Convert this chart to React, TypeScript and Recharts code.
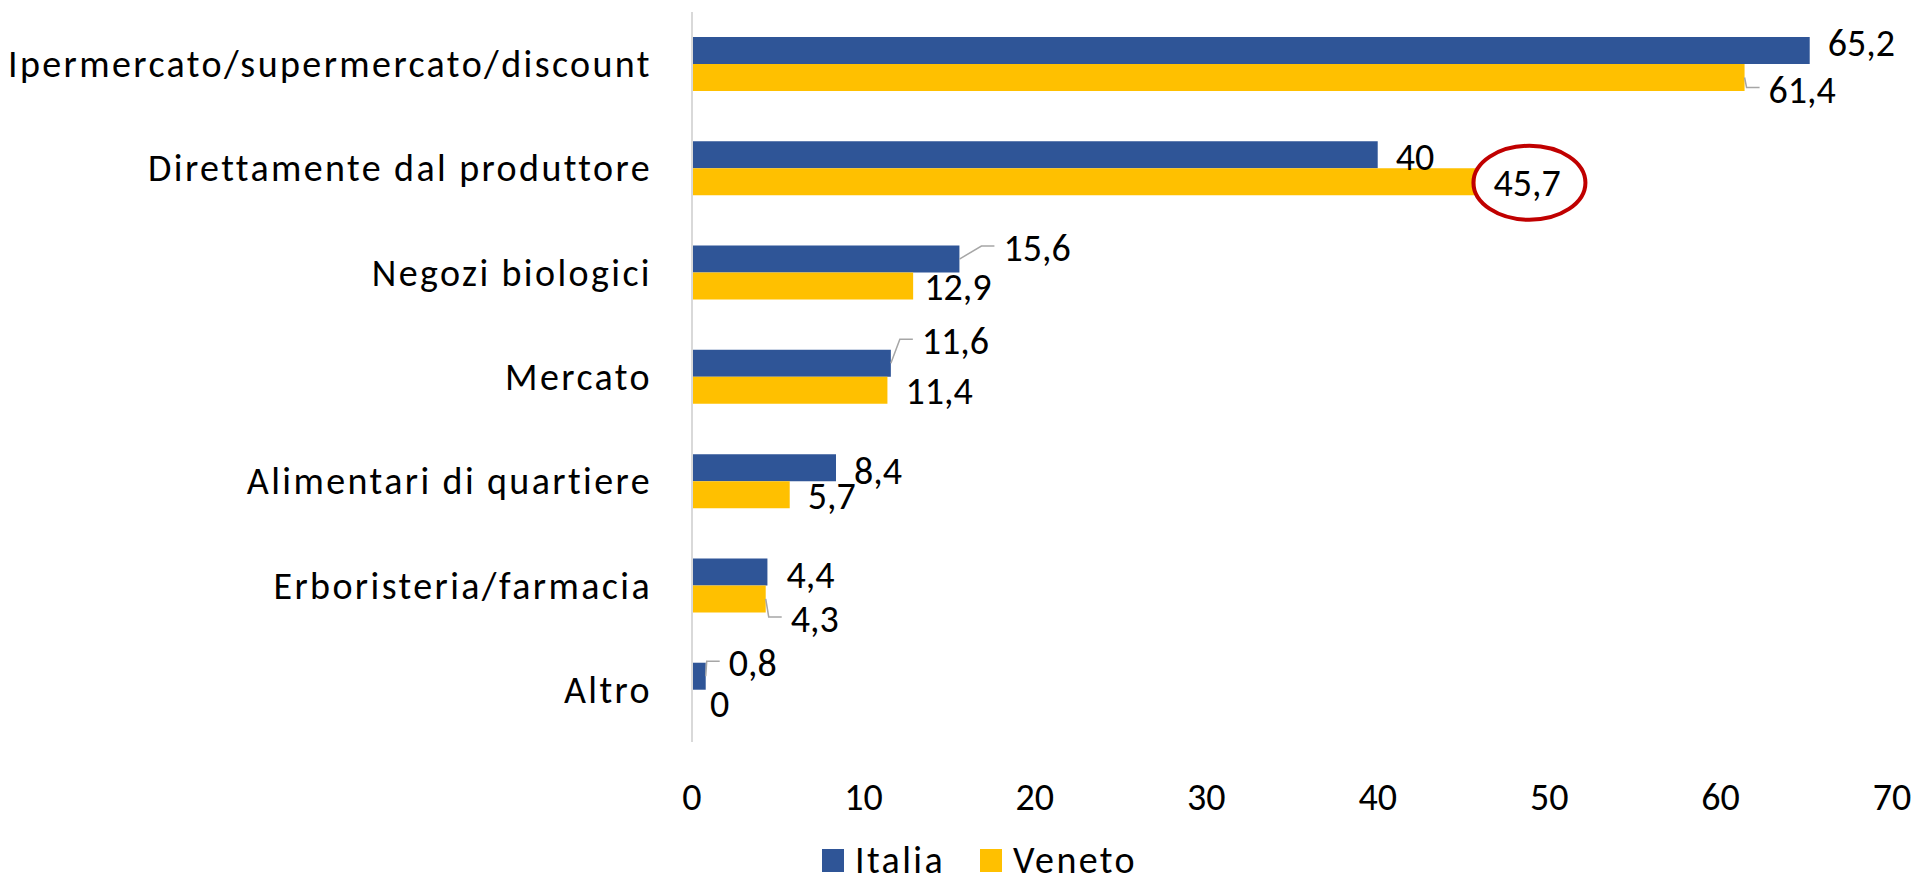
import React from 'react';
import { BarChart, Bar, XAxis, YAxis, Legend, LabelList } from 'recharts';

const categories = [
  'Ipermercato/supermercato/discount',
  'Direttamente dal produttore',
  'Negozi biologici',
  'Mercato',
  'Alimentari di quartiere',
  'Erboristeria/farmacia',
  'Altro',
];
const italia = [65.2, 40, 15.6, 11.6, 8.4, 4.4, 0.8];
const veneto = [61.4, 45.7, 12.9, 11.4, 5.7, 4.3, 0];
const xTicks = [0, 10, 20, 30, 40, 50, 60, 70];

// label nudges [dx, dy] mimicking Excel's manual label placement
const italiaNudge = [[0, -8], [0, 2], [26, -11], [13, -22], [0, 3], [1, 3], [5, -13]];
const venetoNudge = [[6, 12], [0, 1], [-7, 1], [0, 1], [0, 1], [7, 20], [0, 1]];
const italiaLeader = [2, 3, 6];
const venetoLeader = [0, 5];
const highlighted = 1; // Veneto, "Direttamente dal produttore"

const FONT = 'Carlito, Calibri, Lato, sans-serif';
const FS = 38;
const SPACING = 2.4;
const BLUE = '#2F5597';
const GOLD = '#FFC000';

const data = categories.map((name, i) => ({ name, italia: italia[i], veneto: veneto[i] }));

const fmt = (v: number) => String(v).replace('.', ',');

function ValueLabel({ end, cy, value, nudge, leader, circle }: any) {
  const [dx, dy] = nudge;
  const lx = end + 18 + dx;
  const ly = cy + dy;
  return (
    <g>
      {leader && (
        <polyline
          points={`${end},${cy} ${lx - 22},${ly - 2} ${lx - 9},${ly - 2}`}
          fill="none"
          stroke="#A6A6A6"
          strokeWidth={1.5}
        />
      )}
      <text x={lx} y={ly + 13} fontFamily={FONT} fontSize={FS} fill="#000">
        {fmt(value)}
      </text>
      {circle && (
        <ellipse cx={lx + 36} cy={ly} rx={56} ry={37} fill="none" stroke="#C00000" strokeWidth={4} />
      )}
    </g>
  );
}

function makeLabel(series: 'italia' | 'veneto') {
  const nudge = series === 'italia' ? italiaNudge : venetoNudge;
  const leaders = series === 'italia' ? italiaLeader : venetoLeader;
  return (props: any) => {
    const { x, y, width, height, value, index } = props;
    const cy = y + height / 2;
    const own = (
      <ValueLabel
        end={x + width}
        cy={cy}
        value={value}
        nudge={nudge[index]}
        leader={leaders.includes(index)}
        circle={series === 'veneto' && index === highlighted}
      />
    );
    // zero-length Veneto bars get no label slot of their own, so draw it here
    if (series === 'italia' && veneto[index] === 0) {
      return (
        <g>
          {own}
          <ValueLabel end={x} cy={cy + height} value={0} nudge={venetoNudge[index]} leader={false} circle={false} />
        </g>
      );
    }
    return own;
  };
}

function CategoryTick({ x, y, payload }: any) {
  return (
    <text
      x={x}
      y={y}
      dy={13}
      textAnchor="end"
      fontFamily={FONT}
      fontSize={FS}
      fill="#000"
      style={{ letterSpacing: SPACING }}
    >
      {payload.value}
    </text>
  );
}

function LegendContent() {
  const items = [
    { label: 'Italia', color: BLUE },
    { label: 'Veneto', color: GOLD },
  ];
  return (
    <div
      style={{
        display: 'flex',
        justifyContent: 'center',
        marginLeft: 36,
        fontFamily: FONT,
        fontSize: FS,
        letterSpacing: SPACING,
      }}
    >
      {items.map((it, i) => (
        <div key={it.label} style={{ display: 'flex', alignItems: 'center', marginLeft: i ? 35 : 0 }}>
          <span style={{ width: 22, height: 23, background: it.color, marginRight: 11, display: 'inline-block' }} />
          <span style={{ lineHeight: '30px' }}>{it.label}</span>
        </div>
      ))}
    </div>
  );
}

export default function App() {
  return (
    <div style={{ position: 'absolute', left: 0, top: 0, background: '#fff' }}>
      <BarChart
        width={1923}
        height={887}
        data={data}
        layout="vertical"
        margin={{ top: 12, right: 31, bottom: 0, left: 0 }}
        barGap={0}
      >
        <XAxis
          type="number"
          domain={[0, 70]}
          ticks={xTicks}
          axisLine={false}
          tickLine={false}
          tickSize={6}
          tickMargin={35}
          height={145}
          tick={{ fill: '#000', fontFamily: FONT, fontSize: FS }}
        />
        <YAxis
          type="category"
          dataKey="name"
          width={692}
          axisLine={{ stroke: '#D9D9D9', strokeWidth: 2 }}
          tickLine={false}
          tickSize={6}
          tickMargin={34}
          interval={0}
          tick={<CategoryTick />}
        />
        <Legend
          verticalAlign="middle"
          align="center"
          wrapperStyle={{ top: 845, left: 0, width: 1923 }}
          content={<LegendContent />}
        />
        <Bar dataKey="italia" name="Italia" fill={BLUE} barSize={27} isAnimationActive={false}>
          <LabelList dataKey="italia" content={makeLabel('italia')} />
        </Bar>
        <Bar dataKey="veneto" name="Veneto" fill={GOLD} barSize={27} isAnimationActive={false}>
          <LabelList dataKey="veneto" content={makeLabel('veneto')} />
        </Bar>
      </BarChart>
    </div>
  );
}
